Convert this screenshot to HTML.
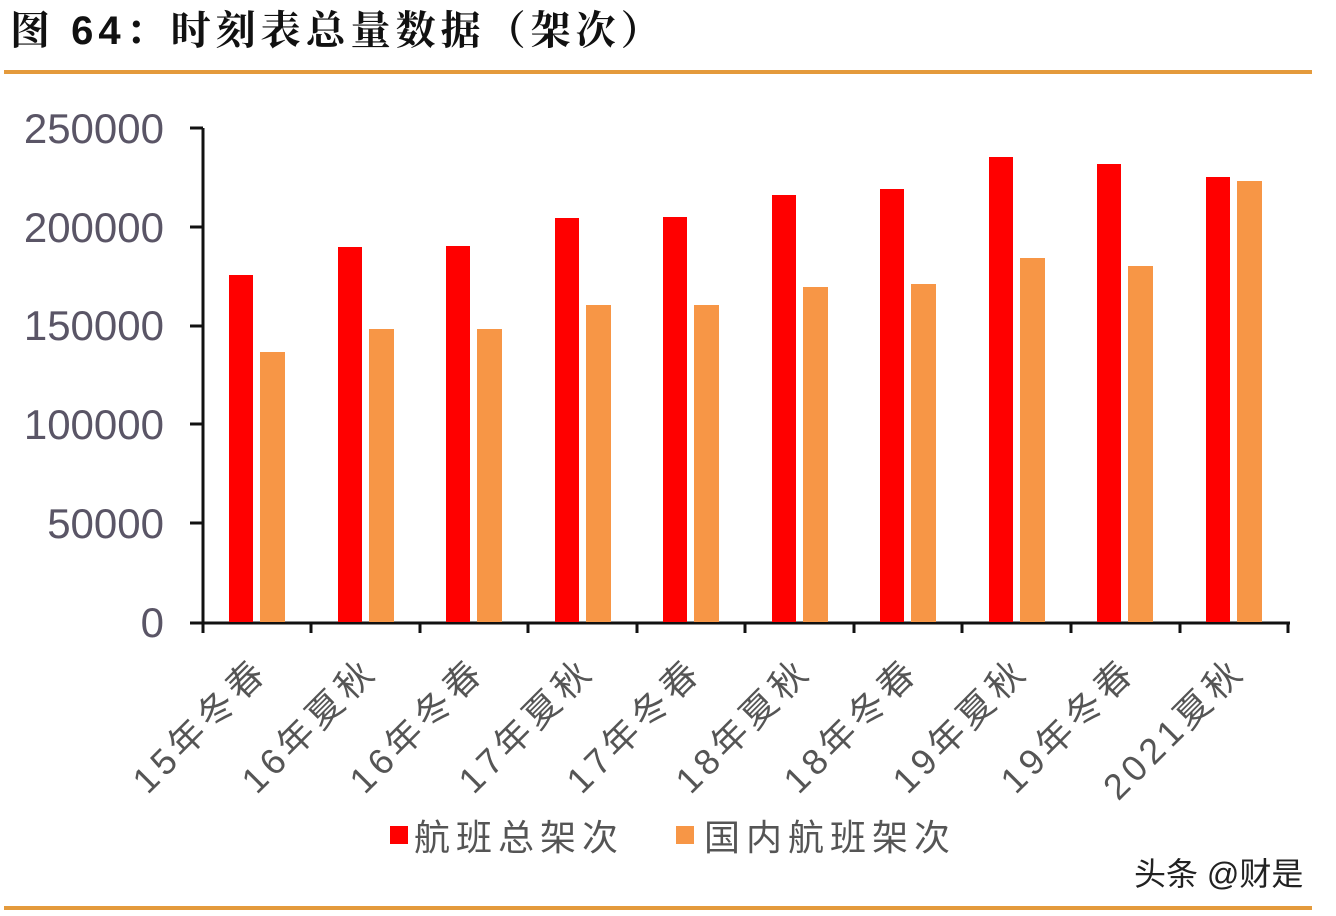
<!DOCTYPE html>
<html><head><meta charset="utf-8"><style>
html,body{margin:0;padding:0;background:#fff;width:1336px;height:916px;overflow:hidden}
</style></head><body>
<svg width="1336" height="916" xmlns="http://www.w3.org/2000/svg" font-family="'Liberation Sans','Noto Sans CJK SC',sans-serif">
<text x="10" y="44" font-size="40" font-weight="bold" fill="#111" letter-spacing="5" font-family="'Liberation Sans','Noto Serif CJK SC',serif">图 64：时刻表总量数据（架次）</text>
<rect x="4" y="70" width="1308" height="4" fill="#e49a3c"/>
<rect x="4" y="906" width="1308" height="4" fill="#e49a3c"/>
<g font-size="42" fill="#5a5566" text-anchor="end">
<text x="164" y="143">250000</text><text x="164" y="242">200000</text><text x="164" y="340">150000</text>
<text x="164" y="439">100000</text><text x="164" y="538">50000</text><text x="164" y="637">0</text>
</g>
<g stroke="#111" stroke-width="3">
<line x1="203" y1="128" x2="203" y2="633"/>
<line x1="190" y1="128" x2="203" y2="128"/><line x1="190" y1="227" x2="203" y2="227"/><line x1="190" y1="326" x2="203" y2="326"/>
<line x1="190" y1="424" x2="203" y2="424"/><line x1="190" y1="523" x2="203" y2="523"/>
<line x1="190" y1="623" x2="1290" y2="623"/>
<line x1="311" y1="623" x2="311" y2="633"/><line x1="420" y1="623" x2="420" y2="633"/><line x1="528" y1="623" x2="528" y2="633"/>
<line x1="637" y1="623" x2="637" y2="633"/><line x1="745" y1="623" x2="745" y2="633"/><line x1="854" y1="623" x2="854" y2="633"/>
<line x1="962" y1="623" x2="962" y2="633"/><line x1="1071" y1="623" x2="1071" y2="633"/><line x1="1180" y1="623" x2="1180" y2="633"/>
<line x1="1288" y1="623" x2="1288" y2="633"/>
</g>
<g fill="#f00">
<rect x="229" y="275" width="24" height="347"/><rect x="338" y="247" width="24" height="375"/><rect x="446" y="246" width="24" height="376"/>
<rect x="555" y="218" width="24" height="404"/><rect x="663" y="217" width="24" height="405"/><rect x="772" y="195" width="24" height="427"/>
<rect x="880" y="189" width="24" height="433"/><rect x="989" y="157" width="24" height="465"/><rect x="1097" y="164" width="24" height="458"/>
<rect x="1206" y="177" width="24" height="445"/>
</g>
<g fill="#f79646">
<rect x="260" y="352" width="25" height="270"/><rect x="369" y="329" width="25" height="293"/><rect x="477" y="329" width="25" height="293"/>
<rect x="586" y="305" width="25" height="317"/><rect x="694" y="305" width="25" height="317"/><rect x="803" y="287" width="25" height="335"/>
<rect x="911" y="284" width="25" height="338"/><rect x="1020" y="258" width="25" height="364"/><rect x="1128" y="266" width="25" height="356"/>
<rect x="1237" y="181" width="25" height="441"/>
</g>
<g font-size="36" fill="#555" text-anchor="end" letter-spacing="5">
<text transform="translate(270,673) rotate(-45)">15年冬春</text>
<text transform="translate(379,673) rotate(-45)">16年夏秋</text>
<text transform="translate(487,673) rotate(-45)">16年冬春</text>
<text transform="translate(596,673) rotate(-45)">17年夏秋</text>
<text transform="translate(704,673) rotate(-45)">17年冬春</text>
<text transform="translate(813,673) rotate(-45)">18年夏秋</text>
<text transform="translate(921,673) rotate(-45)">18年冬春</text>
<text transform="translate(1030,673) rotate(-45)">19年夏秋</text>
<text transform="translate(1138,673) rotate(-45)">19年冬春</text>
<text transform="translate(1247,673) rotate(-45)">2021夏秋</text>
</g>
<rect x="390" y="826" width="18" height="18" fill="#f00"/>
<text x="414" y="850" font-size="36" fill="#555" letter-spacing="6">航班总架次</text>
<rect x="676" y="826" width="18" height="18" fill="#f79646"/>
<text x="704" y="850" font-size="36" fill="#555" letter-spacing="6">国内航班架次</text>
<text x="1134" y="885" font-size="32" fill="#222">头条 @财是</text>
</svg>
</body></html>
